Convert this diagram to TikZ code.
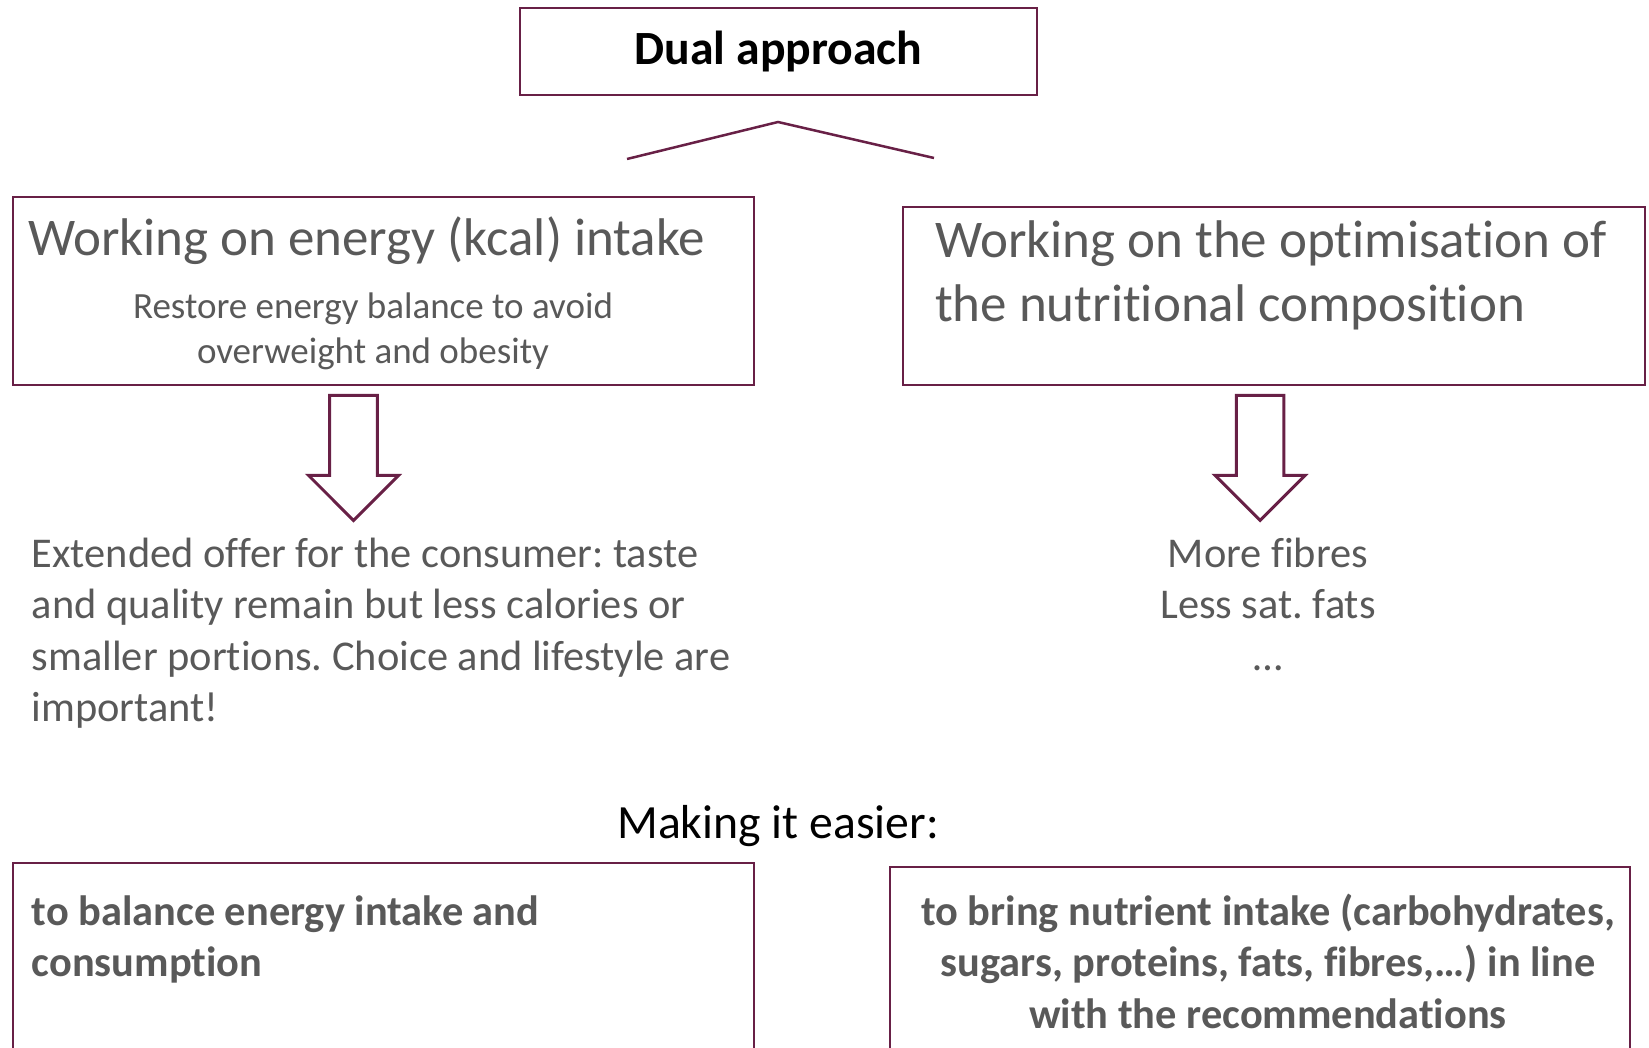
\documentclass[tikz,border=0pt]{standalone}
\usepackage{fontspec}
\setmainfont{Carlito}[RawFeature={-liga}]
\usepackage{tikz}
\usetikzlibrary{positioning}
\usetikzlibrary{shapes.arrows}
\usepackage{xcolor}
\definecolor{plum}{RGB}{104,32,70}
\definecolor{txtgray}{RGB}{89,89,89}

\tikzset{
  frame/.style={draw=plum, line width=2.5pt, rectangle, inner sep=0pt},
  downarrow/.style={draw=plum, line width=3pt, single arrow, rotate=-90,
    minimum height=125pt, minimum width=90pt, inner xsep=0pt, inner ysep=22pt,
    single arrow head extend=21pt, single arrow head indent=0pt},
  txt/.style={text=txtgray, inner sep=0pt},
}

\begin{document}
\frenchspacing
\begin{tikzpicture}[x=1pt, y=-1pt]
  \clip (0,0) rectangle (1649,1048);

  % top box and the two branches
  \node (dual) [frame, minimum width=517pt, minimum height=87pt,
    font=\fontsize{47.7}{58}\selectfont\bfseries] at (778.5,51.5) {Dual approach};
  \coordinate (capL) at (627,159);
  \coordinate (capT) at (778,122);
  \coordinate (capR) at (934,158);
  \draw[plum, line width=2.5pt] (capL) -- (capT) -- (capR);

  \node (energy) [frame, minimum width=741pt, minimum height=188pt] at (383.3,291) {};
  \node (nutri) [frame, minimum width=742pt, minimum height=178pt] at (1274,296) {};

  % anchor=base of a multi-line node sits on its last line
  \node (energyT) [txt, anchor=base west, font=\fontsize{53}{64.5}\selectfont] at (28,256)
    {Working on energy (kcal) intake};
  \node (energyS) [txt, anchor=base, align=center, font=\fontsize{37}{45}\selectfont] at (373,364)
    {Restore energy balance to avoid\\overweight and obesity};
  \node (nutriT) [txt, anchor=base west, align=left, font=\fontsize{53}{64}\selectfont] at (935,322)
    {Working on the optimisation of\\the nutritional composition};

  % hollow arrows
  \node (arrL) [downarrow] at (353.5,446) {};
  \node (arrR) [downarrow] at (1260,446) {};

  \node (offer) [txt, anchor=base west, align=left, font=\fontsize{42.4}{51.5}\selectfont] at (31.6,721.5)
    {Extended offer for the consumer: taste\\
     and quality remain but less calories or\\
     smaller portions. Choice and lifestyle are\\
     important!};
  \node (fibres) [txt, anchor=base, align=center, font=\fontsize{42.4}{51.5}\selectfont] at (1268,670)
    {More fibres\\Less sat. fats\\\dots};

  % bottom part
  \node (easier) [anchor=base, inner sep=0pt, font=\fontsize{47.7}{58}\selectfont] at (778,838)
    {Making it easier:};
  \node (balance) [frame, minimum width=741pt, minimum height=207pt] at (383.3,966.5) {};
  \node (bring) [frame, minimum width=740pt, minimum height=203pt] at (1260,968.5) {};
  \node (balanceT) [txt, anchor=base west, align=left, font=\fontsize{42.4}{51.5}\selectfont\bfseries] at (31.6,976.5)
    {to balance energy intake and\\consumption};
  \node (bringT) [txt, anchor=base, align=center, font=\fontsize{42.4}{51.5}\selectfont\bfseries] at (1268,1028)
    {to bring nutrient intake (carbohydrates,\\
     sugars, proteins, fats, fibres,\dots) in line\\with the recommendations};
\end{tikzpicture}
\end{document}
